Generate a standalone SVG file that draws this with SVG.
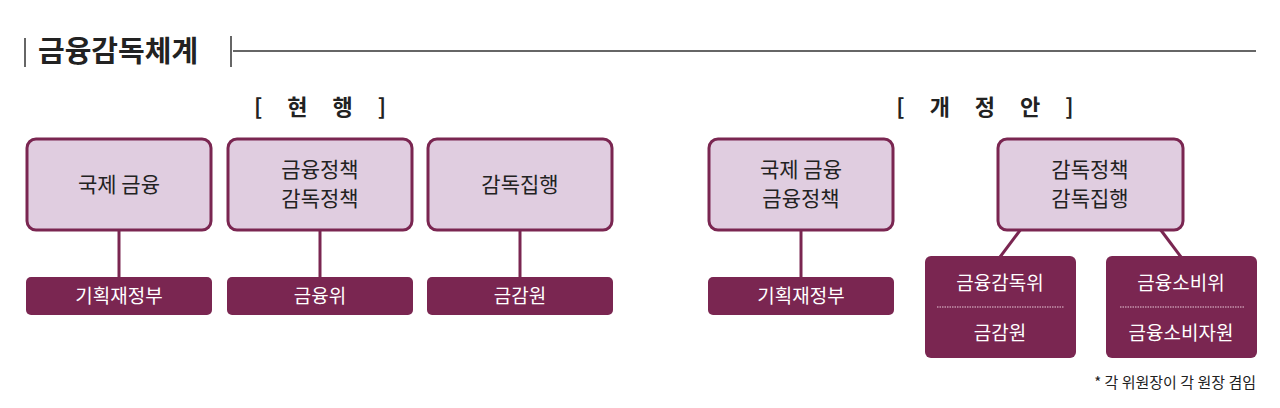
<svg xmlns="http://www.w3.org/2000/svg" width="1280" height="408" viewBox="0 0 1280 408">
<style>
text{font-family:"Noto Sans CJK KR","Noto Sans",sans-serif}
.top{fill:#e0cde0;stroke:#7a2651;stroke-width:3}
.bot{fill:#7a2651}
.tt{font-size:21px;fill:#222;text-anchor:middle}
.bt{font-size:19px;fill:#fff;text-anchor:middle}
.c{stroke:#7a2651;stroke-width:3;fill:none}
.h{font-size:22px;font-weight:bold;fill:#222;text-anchor:middle;letter-spacing:10px}
</style>
<rect width="1280" height="408" fill="#fff"/>
<g id="title">
<line x1="25" y1="38" x2="25" y2="67" stroke="#333" stroke-width="1.5"/>
<text x="38" y="62" font-size="29" font-weight="bold" fill="#222">금융감독체계</text>
<line x1="231" y1="36" x2="231" y2="67" stroke="#333" stroke-width="1.5"/>
<line x1="233" y1="51" x2="1256" y2="51" stroke="#333" stroke-width="1.5"/>
</g>
<text class="h" x="325" y="115">[ 현 행 ]</text>
<text class="h" x="990" y="115">[ 개 정 안 ]</text>
<g id="connectors">
<line class="c" x1="119" y1="230" x2="119" y2="277"/>
<line class="c" x1="320" y1="230" x2="320" y2="277"/>
<line class="c" x1="520" y1="230" x2="520" y2="277"/>
<line class="c" x1="801" y1="230" x2="801" y2="277"/>
<line class="c" x1="1021" y1="229" x2="1000" y2="257"/>
<line class="c" x1="1160" y1="229" x2="1181" y2="257"/>
</g>
<g id="n1"><rect class="top" x="27" y="139" width="184" height="91" rx="9"/><text class="tt" x="119" y="192">국제 금융</text></g>
<g id="n2"><rect class="top" x="228" y="139" width="184" height="91" rx="9"/><text class="tt" x="320" y="177">금융정책</text><text class="tt" x="320" y="206">감독정책</text></g>
<g id="n3"><rect class="top" x="428" y="139" width="184" height="91" rx="9"/><text class="tt" x="520" y="192">감독집행</text></g>
<g id="n4"><rect class="top" x="709" y="139" width="184" height="91" rx="9"/><text class="tt" x="801" y="177">국제 금융</text><text class="tt" x="801" y="206">금융정책</text></g>
<g id="n5"><rect class="top" x="998" y="139" width="185" height="91" rx="9"/><text class="tt" x="1090" y="177">감독정책</text><text class="tt" x="1090" y="206">감독집행</text></g>
<g id="b1"><rect class="bot" x="26" y="277" width="186" height="38" rx="5"/><text class="bt" x="119" y="303">기획재정부</text></g>
<g id="b2"><rect class="bot" x="227" y="277" width="186" height="38" rx="5"/><text class="bt" x="320" y="303">금융위</text></g>
<g id="b3"><rect class="bot" x="427" y="277" width="186" height="38" rx="5"/><text class="bt" x="520" y="303">금감원</text></g>
<g id="b4"><rect class="bot" x="708" y="277" width="186" height="38" rx="5"/><text class="bt" x="801" y="303">기획재정부</text></g>
<g id="b5"><rect class="bot" x="925" y="256" width="151" height="102" rx="6"/><text class="bt" x="1000" y="290">금융감독위</text><line x1="937" y1="307" x2="1064" y2="307" stroke="#e8c8d8" stroke-width="1" stroke-dasharray="1.5 1"/><text class="bt" x="1000" y="340">금감원</text></g>
<g id="b6"><rect class="bot" x="1106" y="256" width="151" height="102" rx="6"/><text class="bt" x="1181" y="290">금융소비위</text><line x1="1120" y1="307" x2="1245" y2="307" stroke="#e8c8d8" stroke-width="1" stroke-dasharray="1.5 1"/><text class="bt" x="1181" y="340">금융소비자원</text></g>
<text x="1256" y="388" font-size="15" fill="#222" text-anchor="end">* 각 위원장이 각 원장 겸임</text>
</svg>
